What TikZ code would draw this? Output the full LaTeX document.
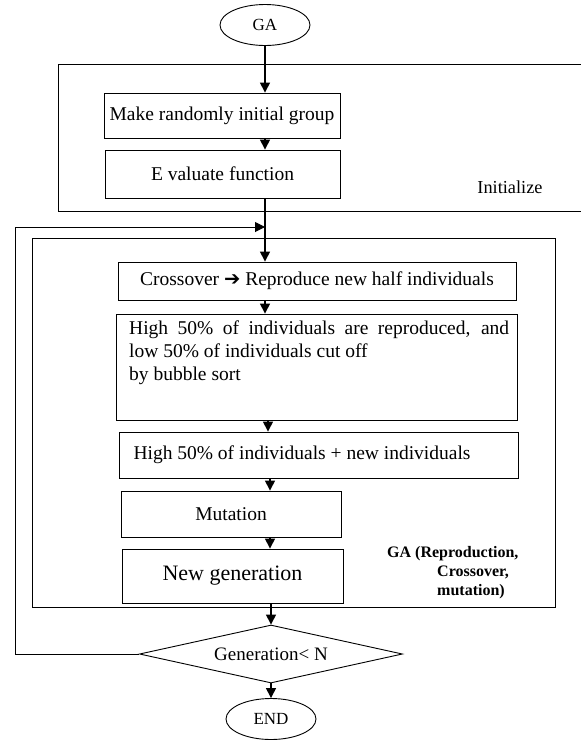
\documentclass[tikz,border=0pt]{standalone}
\usepackage{fontspec}
\setmainfont{Liberation Serif}
\newfontfamily\symfont{DejaVu Sans}
\usetikzlibrary{shapes.geometric,arrows.meta}
\begin{document}
\begin{tikzpicture}[x=1pt,y=-1pt,
  boxtxt/.style={font=\fontsize{19.5}{23}\selectfont},
  box/.style={draw, line width=0.9pt, rectangle, inner sep=0pt, boxtxt},
  term/.style={draw, ellipse, line width=0.9pt, inner sep=0pt, minimum width=90pt, minimum height=41pt, font=\fontsize{17}{20}\selectfont},
  dec/.style={draw, diamond, aspect=4.5, line width=0.9pt, inner sep=0pt, minimum width=263pt, minimum height=58pt, font=\fontsize{19}{22}\selectfont},
  frame/.style={line width=0.9pt},
  arr/.style={line width=1.4pt, -{Triangle[width=10pt,length=10pt]}},
  looparr/.style={line width=1pt, -{Triangle[width=10pt,length=10pt]}},
  lbl/.style={inner sep=0pt, font=\fontsize{18.3}{22}\selectfont},
  gal/.style={inner sep=0pt, align=left, font=\bfseries\fontsize{16}{19}\selectfont}
]
\useasboundingbox (0,0) rectangle (581,740);

% frames
\draw[frame] (583,64) -- (58,64) -- (58,211) -- (583,211);
\draw[frame] (32,238) rectangle (555,607);

% nodes
\node[term] (ga) at (265,25) {GA};
\node[box, minimum width=236pt, minimum height=45pt] (make) at (222,115.5) {Make randomly initial group};
\node[box, minimum width=235pt, minimum height=48pt] (eval) at (222.5,174) {E valuate function};
\node[lbl] (init) at (510,187) {Initialize};

\node[box, minimum width=398pt, minimum height=38pt] (cross) at (317,281) {Crossover {\symfont ➔} Reproduce new half individuals};
\node[box, minimum width=401pt, minimum height=106pt] (high) at (316.5,367) {};
\node[anchor=north west, inner sep=0pt, align=left, boxtxt] (hightxt) at (129,321)
  {\makebox[380pt][s]{High 50\% of individuals are reproduced, and}\\ low 50\% of individuals cut off\\ by bubble sort};
\node[box, minimum width=399pt, minimum height=46pt] (mix) at (318.5,455) {\makebox[370pt][l]{High 50\% of individuals + new individuals}};
\node[box, minimum width=220pt, minimum height=46pt] (mut) at (231,514) {Mutation};
\node[box, minimum width=221pt, minimum height=54pt, font=\fontsize{22}{26}\selectfont] (newgen) at (232.5,576) {New generation};
\node[gal, anchor=north west] (galbl) at (387,546) {GA (Reproduction,\\\hspace*{50pt}Crossover,\\\hspace*{50pt}mutation)};

\node[dec] (cond) at (271,654) {Generation< N};
\node[term] (end) at (271,719) {END};

% helper coordinates
\coordinate (join) at (265,227);
\coordinate (corner) at (15,227);
\coordinate (c2) at (268,0);
\coordinate (c3) at (270,0);

% connectors
\draw[arr] (ga) -- (make.north -| ga);
\draw[arr] (make.south -| ga) -- (eval.north -| ga);
\draw[arr] (eval.south -| ga) -- (cross.north -| ga);
\draw[arr] (cross.south -| ga) -- (high.north -| ga);
\draw[arr] (high.south -| c2) -- (mix.north -| c2);
\draw[arr] (mix.south -| c3) -- (mut.north -| c3);
\draw[arr] (mut.south -| c3) -- (newgen.north -| c3);
\draw[arr] (newgen.south -| cond) -- (cond.north);
\draw[arr] (cond) -- (end);
\draw[looparr] (cond.west) -| (corner) -- (join);
\end{tikzpicture}
\end{document}
